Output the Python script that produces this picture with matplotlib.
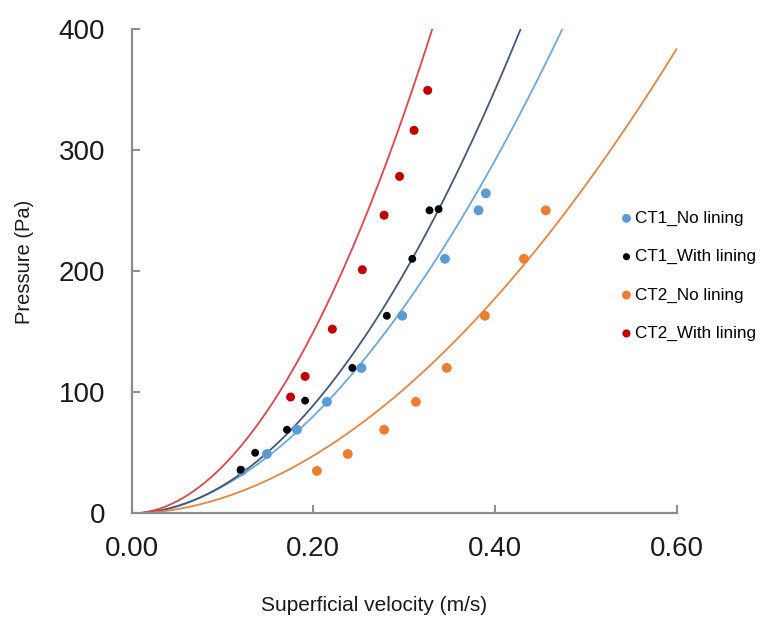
import numpy as np
import matplotlib
matplotlib.use("Agg")
import matplotlib.pyplot as plt

plt.rcParams['font.family'] = ['Liberation Sans', 'DejaVu Sans']

# measured points (superficial velocity m/s, pressure Pa)
ct1_no_x = [0.121, 0.149, 0.182, 0.215, 0.253, 0.298, 0.345, 0.382, 0.390]
ct1_no_y = [35, 49, 69, 92, 120, 163, 210, 250, 264]
ct1_with_x = [0.120, 0.136, 0.171, 0.191, 0.243, 0.281, 0.309, 0.328, 0.338]
ct1_with_y = [36, 50, 69, 93, 120, 163, 210, 250, 251]
ct2_no_x = [0.204, 0.238, 0.278, 0.313, 0.347, 0.389, 0.432, 0.456]
ct2_no_y = [35, 49, 69, 92, 120, 163, 210, 250]
ct2_with_x = [0.175, 0.191, 0.221, 0.254, 0.278, 0.295, 0.311, 0.326]
ct2_with_y = [96, 113, 152, 201, 246, 278, 316, 349]

# model curves  p = a * v^b
curve_a = [1600, 2123, 1011, 3450]
curve_b = [1.86, 1.97, 1.90, 1.95]
curve_colors = ['#6AA8E0', '#44587A', '#E8843F', '#E5434B']

labels = ['CT1_No lining', 'CT1_With lining', 'CT2_No lining', 'CT2_With lining']
point_colors = ['#5B9BD5', '#000000', '#ED7D31', '#C00000']
point_sizes = [50, 32, 50, 42]

fig = plt.figure(figsize=(7.61, 6.20), dpi=100)
ax = fig.add_axes([0.173, 0.172, 0.716, 0.782])

v = np.linspace(0, 0.6, 400)
for a, b, c in zip(curve_a, curve_b, curve_colors):
    ax.plot(v, a * v ** b, color=c, lw=1.3, zorder=2)

xs = [ct1_no_x, ct1_with_x, ct2_no_x, ct2_with_x]
ys = [ct1_no_y, ct1_with_y, ct2_no_y, ct2_with_y]
for x, y, c, s, lab in zip(xs, ys, point_colors, point_sizes, labels):
    ax.scatter(x, y, s=s, color=c, edgecolors='none', label=lab, zorder=3)

ax.set_xlim(0, 0.6)
ax.set_ylim(0, 400)
ax.set_xticks([0, 0.2, 0.4, 0.6])
ax.set_xticklabels(['0.00', '0.20', '0.40', '0.60'])
ax.set_yticks([0, 100, 200, 300, 400])

for side in ['top', 'right']:
    ax.spines[side].set_visible(False)
for side in ['left', 'bottom']:
    ax.spines[side].set_color('#8C8C8C')
    ax.spines[side].set_linewidth(1.6)
ax.tick_params(direction='in', length=6, width=1.4, color='#8C8C8C',
               labelsize=20, labelcolor='#1A1A1A')
ax.tick_params(axis='y', pad=19)
ax.tick_params(axis='x', pad=16)

fig.text(0.032, 0.577, 'Pressure (Pa)', rotation=90, fontsize=14.5,
         ha='center', va='center', color='#1A1A1A')
fig.text(0.491, 0.023, 'Superficial velocity (m/s)', fontsize=15,
         ha='center', va='center', color='#1A1A1A')

ax.legend(loc='upper left', bbox_to_anchor=(0.803, 0.671),
          bbox_transform=fig.transFigure, frameon=False, fontsize=12.3,
          handletextpad=0.0, labelspacing=1.36, borderaxespad=0,
          handlelength=1.0, markerscale=0.9)

fig.savefig('out.png', dpi=100)
